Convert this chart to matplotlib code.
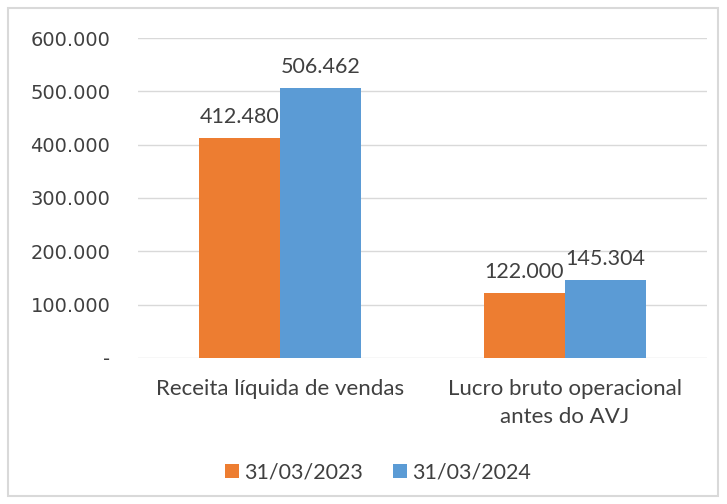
import numpy as np
import matplotlib.pyplot as plt
from matplotlib.patches import Rectangle

categories = ["Receita líquida de vendas", "Lucro bruto operacional\nantes do AVJ"]
series_names = ["31/03/2023", "31/03/2024"]
values_2023 = [412480, 122000]
values_2024 = [506462, 145304]
colors = ["#ED7D31", "#5B9BD5"]

FONT = ["Lato", "DejaVu Sans"]
TXT = "#404040"


def fmt_br(v):
    if v == 0:
        return "-"
    return f"{int(v):,}".replace(",", ".")


fig = plt.figure(figsize=(7.27, 5.04), dpi=100)
ax = fig.add_axes([0.190, 0.290, 0.7825, 0.6346])

x = np.arange(len(categories))
w = 0.285
for i, (vals, name) in enumerate(zip([values_2023, values_2024], series_names)):
    b = ax.bar(x + (i - 0.5) * w, vals, width=w, color=colors[i], label=name, zorder=3)
    for rect, v in zip(b, vals):
        ax.annotate(fmt_br(v), (rect.get_x() + rect.get_width() / 2, v),
                    xytext=(0, 8), textcoords="offset points",
                    ha="center", va="bottom", fontsize=15.5, color=TXT, family=FONT)

ax.set_xlim(-0.5, 1.5)
ax.set_ylim(0, 600000)
yt = np.arange(0, 600001, 100000)
ax.set_yticks(yt)
ax.set_yticklabels([fmt_br(v) for v in yt], fontsize=14, color=TXT, family="DejaVu Sans")
ax.set_xticks(x)
ax.set_xticklabels(categories, fontsize=16, color=TXT, family=FONT, linespacing=1.55)
ax.tick_params(axis="y", length=0, pad=20)
ax.tick_params(axis="x", length=0, pad=15)
ax.grid(axis="y", color="#D9D9D9", linewidth=1, zorder=0)
for s in ax.spines.values():
    s.set_visible(False)

leg = fig.legend(loc="center", bbox_to_anchor=(0.52, 0.063), ncol=2, frameon=False,
                 prop={"family": FONT, "size": 15.5}, handlelength=0.65, handleheight=0.65,
                 handletextpad=0.25, columnspacing=1.4)
for t in leg.get_texts():
    t.set_color(TXT)

fig.patches.append(Rectangle((8 / 727, 8 / 504), 710 / 727, 488 / 504,
                             transform=fig.transFigure, fill=False,
                             edgecolor="#D9D9D9", linewidth=1.5))

fig.savefig("out.png", dpi=100)
